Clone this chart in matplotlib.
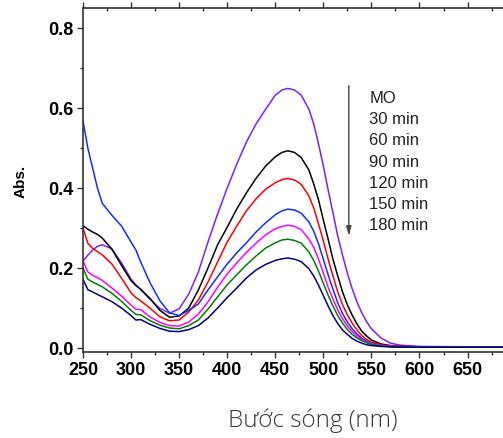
import numpy as np
import matplotlib
matplotlib.use("Agg")
import matplotlib.pyplot as plt
from matplotlib.ticker import MultipleLocator, FormatStrFormatter

# wavelength grid (nm) and absorbance of each sample
wavelength = [250, 255, 260, 265, 270, 280, 290, 300, 305, 310, 320, 330, 340,
              350, 360, 370, 380, 390, 400, 410, 420, 430, 440, 450, 457, 463,
              470, 477, 485, 490, 495, 500, 505, 510, 515, 520, 525, 530, 535,
              540, 545, 550, 560, 570, 580, 600, 650, 690]

abs_mo = [0.217, 0.232, 0.245, 0.254, 0.258, 0.248, 0.213, 0.172, 0.158, 0.146,
          0.121, 0.099, 0.087, 0.098, 0.135, 0.190, 0.265, 0.335, 0.400, 0.460,
          0.515, 0.560, 0.597, 0.632, 0.645, 0.649, 0.645, 0.632, 0.597, 0.560,
          0.510, 0.455, 0.395, 0.338, 0.280, 0.232, 0.187, 0.148, 0.115, 0.088,
          0.066, 0.048, 0.025, 0.012, 0.007, 0.004, 0.003, 0.003]
abs_30 = [0.306, 0.297, 0.290, 0.284, 0.275, 0.247, 0.207, 0.168, 0.156, 0.147,
          0.123, 0.094, 0.077, 0.080, 0.100, 0.145, 0.200, 0.258, 0.302, 0.348,
          0.388, 0.424, 0.455, 0.478, 0.489, 0.493, 0.489, 0.476, 0.445, 0.410,
          0.370, 0.320, 0.272, 0.222, 0.180, 0.140, 0.108, 0.082, 0.060, 0.042,
          0.030, 0.020, 0.010, 0.006, 0.004, 0.003, 0.002, 0.002]
abs_60 = [0.300, 0.262, 0.249, 0.241, 0.233, 0.210, 0.175, 0.138, 0.126, 0.118,
          0.099, 0.078, 0.068, 0.070, 0.090, 0.120, 0.165, 0.215, 0.265, 0.305,
          0.343, 0.373, 0.397, 0.413, 0.421, 0.424, 0.420, 0.409, 0.380, 0.350,
          0.310, 0.268, 0.222, 0.180, 0.140, 0.108, 0.083, 0.062, 0.045, 0.031,
          0.021, 0.015, 0.008, 0.005, 0.004, 0.003, 0.002, 0.002]
abs_90 = [0.568, 0.500, 0.450, 0.400, 0.362, 0.332, 0.305, 0.265, 0.245, 0.215,
          0.162, 0.118, 0.088, 0.081, 0.094, 0.110, 0.145, 0.178, 0.210, 0.238,
          0.263, 0.290, 0.313, 0.333, 0.343, 0.347, 0.345, 0.337, 0.315, 0.292,
          0.260, 0.222, 0.183, 0.147, 0.113, 0.086, 0.065, 0.048, 0.035, 0.024,
          0.017, 0.012, 0.007, 0.004, 0.003, 0.003, 0.002, 0.002]
abs_120 = [0.218, 0.190, 0.182, 0.176, 0.169, 0.150, 0.130, 0.107, 0.097, 0.096,
           0.077, 0.064, 0.056, 0.055, 0.065, 0.085, 0.115, 0.152, 0.185, 0.213,
           0.239, 0.262, 0.283, 0.298, 0.304, 0.307, 0.304, 0.296, 0.272, 0.252,
           0.222, 0.187, 0.152, 0.122, 0.095, 0.073, 0.055, 0.041, 0.030, 0.021,
           0.015, 0.010, 0.006, 0.004, 0.003, 0.002, 0.002, 0.002]
abs_150 = [0.200, 0.172, 0.165, 0.159, 0.153, 0.137, 0.117, 0.094, 0.084, 0.083,
           0.068, 0.057, 0.050, 0.048, 0.056, 0.070, 0.097, 0.128, 0.158, 0.183,
           0.208, 0.230, 0.250, 0.263, 0.270, 0.272, 0.269, 0.262, 0.240, 0.219,
           0.192, 0.162, 0.132, 0.105, 0.081, 0.062, 0.046, 0.034, 0.025, 0.018,
           0.013, 0.009, 0.005, 0.003, 0.003, 0.002, 0.002, 0.002]
abs_180 = [0.172, 0.146, 0.140, 0.134, 0.128, 0.116, 0.100, 0.081, 0.070, 0.071,
           0.059, 0.049, 0.042, 0.041, 0.046, 0.056, 0.075, 0.100, 0.126, 0.150,
           0.175, 0.195, 0.209, 0.219, 0.223, 0.225, 0.222, 0.216, 0.198, 0.180,
           0.157, 0.131, 0.105, 0.081, 0.061, 0.045, 0.034, 0.024, 0.017, 0.012,
           0.008, 0.006, 0.004, 0.003, 0.002, 0.002, 0.002, 0.002]

labels = ["MO", "30 min", "60 min", "90 min", "120 min", "150 min", "180 min"]
series = [abs_mo, abs_30, abs_60, abs_90, abs_120, abs_150, abs_180]
colors = ["#8020ff", "#000000", "#ff0000", "#1030ff", "#ff00ff", "#008000", "#000080"]

fig = plt.figure(figsize=(5.03, 4.39), dpi=100)
# axes run a little past the right edge of the figure, so the right spine is cut off
ax = fig.add_axes([83 / 503, 86 / 439, 423 / 503, 344 / 439])

for y, c, lab in zip(series, colors, labels):
    ax.plot(wavelength, y, color=c, lw=1.1, label=lab, solid_joinstyle="round")

ax.set_xlim(250, 690)
ax.set_ylim(-0.01, 0.85)
ax.xaxis.set_major_locator(MultipleLocator(50))
ax.xaxis.set_minor_locator(MultipleLocator(25))
ax.yaxis.set_major_locator(MultipleLocator(0.2))
ax.yaxis.set_minor_locator(MultipleLocator(0.1))
ax.yaxis.set_major_formatter(FormatStrFormatter("%.1f"))

for s in ax.spines.values():
    s.set_linewidth(1.2)
    s.set_color("#333333")
ax.spines["right"].set_visible(False)

ax.tick_params(which="both", direction="out", color="#333333", width=1.0)
ax.tick_params(which="major", length=4.5)
ax.tick_params(which="minor", length=2.5)
# inward ticks on the top spine
ax.tick_params(axis="x", which="both", top=True, labeltop=False)
for t in ax.xaxis.get_major_ticks() + ax.xaxis.get_minor_ticks():
    t.tick2line.set_marker(matplotlib.markers.TICKDOWN)
    t.tick2line.set_markersize(2.5)

for lbl in ax.get_xticklabels() + ax.get_yticklabels():
    lbl.set_fontfamily("Liberation Sans")
    lbl.set_fontweight("bold")
    lbl.set_fontsize(13)
ax.tick_params(axis="x", pad=2)
ax.tick_params(axis="y", pad=2)

ax.set_ylabel("Abs.", family="Liberation Sans", fontweight="bold", fontsize=11, labelpad=15)

# time arrow and sample list
ax.annotate("", xy=(526.5, 0.28), xytext=(526.5, 0.656),
            arrowprops=dict(arrowstyle="-|>,head_length=0.55,head_width=0.15",
                            color="#444444", lw=1.0, shrinkA=0, shrinkB=0))
for i, lab in enumerate(labels):
    ax.text(548, 0.627 - i * 0.0532, lab, family="Liberation Sans", fontsize=12,
            color="#222222", va="center", ha="left")

fig.text(313 / 503, 1 - 421 / 439, "Bước sóng (nm)", family="Open Sans",
         fontweight="light", fontsize=17.5, color="#3a3a3a", ha="center", va="center")

fig.savefig("out.png", dpi=100)
